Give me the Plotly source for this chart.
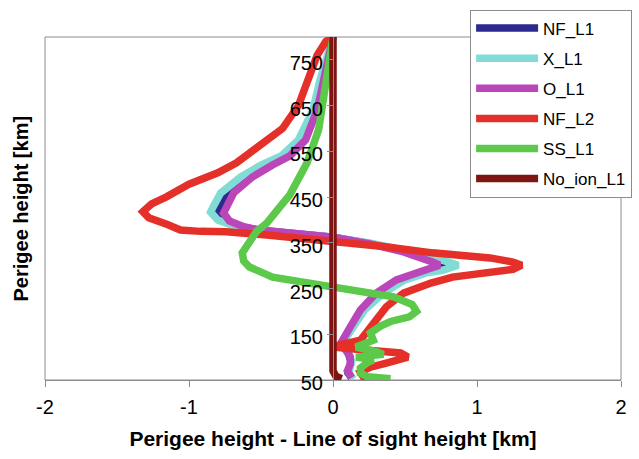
import plotly.graph_objects as go

# ---- data (x: perigee height - line of sight height [km], h: perigee height [km]) ----
nf_l1_x = [0.0, -0.035, -0.08, -0.125, -0.215, -0.33, -0.46, -0.60, -0.73, -0.79, -0.81, -0.77, -0.65, -0.53, -0.24, 0.0, 0.26, 0.52, 0.73, 0.80, 0.70, 0.62, 0.47, 0.33, 0.21, 0.14, 0.07, 0.055, 0.105, 0.125, 0.105, 0.135]
nf_l1_h = [800, 760, 706, 640, 575, 540, 520, 494, 459, 430, 416, 399, 386, 378, 371, 362, 348, 330, 310, 303, 290, 285, 269, 240, 203, 166, 137, 128, 110, 90, 65, 52]

x_l1_x = [0.0, -0.04, -0.09, -0.14, -0.24, -0.36, -0.50, -0.64, -0.78, -0.83, -0.85, -0.80, -0.68, -0.55, -0.25, 0.0, 0.28, 0.55, 0.78, 0.87, 0.76, 0.66, 0.50, 0.35, 0.22, 0.15, 0.08, 0.06, 0.11, 0.13, 0.11, 0.14]
x_l1_h = [800, 760, 706, 640, 575, 540, 520, 494, 459, 430, 417, 400, 386, 378, 371, 362, 348, 330, 310, 301, 290, 285, 269, 240, 203, 166, 137, 128, 110, 90, 65, 52]

o_l1_x = [0.0, -0.03, -0.07, -0.11, -0.19, -0.30, -0.42, -0.56, -0.69, -0.74, -0.76, -0.72, -0.62, -0.51, -0.23, 0.0, 0.25, 0.49, 0.69, 0.74, 0.60, 0.44, 0.30, 0.19, 0.12, 0.06, 0.05, 0.08, 0.12, 0.12, 0.10, 0.13]
o_l1_h = [800, 760, 706, 640, 575, 540, 520, 494, 459, 430, 415, 398, 385, 378, 371, 362, 348, 330, 308, 301, 286, 269, 240, 203, 166, 137, 128, 120, 100, 85, 70, 55]

nf_l2_x = [0.0, -0.05, -0.11, -0.16, -0.24, -0.35, -0.51, -0.67, -0.80, -1.0, -1.16, -1.26, -1.32, -1.28, -1.15, -1.06, -0.92, -0.74, -0.46, -0.2, 0.05, 0.35, 0.69, 0.95, 1.09, 1.25, 1.31, 1.25, 1.11, 0.95, 0.83, 0.68, 0.60, 0.49, 0.37, 0.28, 0.23, 0.19, 0.05, 0.0, 0.2, 0.47, 0.52, 0.45, 0.37, 0.26, 0.19, 0.21, 0.30]
nf_l2_h = [800, 790, 760, 715, 650, 600, 560, 525, 503, 478, 450, 435, 418, 405, 390, 378, 375, 374, 367, 360, 352, 342, 328, 322, 317, 308, 301, 292, 286, 280, 275, 262, 253, 240, 210, 175, 153, 137, 127, 122, 116, 109, 100, 92, 87, 78, 67, 57, 52]

ss_l1_x = [0.0, -0.02, -0.04, -0.10, -0.18, -0.23, -0.30, -0.37, -0.46, -0.53, -0.60, -0.63, -0.62, -0.58, -0.42, -0.16, 0.0, 0.24, 0.42, 0.55, 0.58, 0.53, 0.40, 0.33, 0.26, 0.28, 0.16, 0.30, 0.35, 0.16, 0.28, 0.24, 0.19, 0.19, 0.24, 0.40]
ss_l1_h = [800, 760, 706, 597, 525, 494, 455, 428, 393, 375, 345, 328, 310, 297, 275, 262, 255, 242, 232, 215, 200, 188, 178, 168, 153, 137, 122, 112, 106, 100, 94, 88, 76, 65, 57, 53]

no_ion_x = [0.0, 0.0, -0.004, 0.004, -0.004, 0.004, -0.004, 0.004, -0.004, 0.004, -0.004, 0.004, 0.0, 0.0, 0.02, 0.06]
no_ion_h = [800, 290, 280, 270, 255, 240, 220, 200, 180, 160, 145, 130, 110, 70, 58, 53]

series = [
    ("NF_L1", nf_l1_x, nf_l1_h, "#2c2a8e"),
    ("X_L1", x_l1_x, x_l1_h, "#82dcd6"),
    ("O_L1", o_l1_x, o_l1_h, "#bb46ba"),
    ("NF_L2", nf_l2_x, nf_l2_h, "#e5302a"),
    ("SS_L1", ss_l1_x, ss_l1_h, "#5cc94b"),
    ("No_ion_L1", no_ion_x, no_ion_h, "#7d1512"),
]

x_ticks = [-2, -1, 0, 1, 2]
y_ticks = [50, 150, 250, 350, 450, 550, 650, 750]

FONT = "Liberation Sans, Arial, sans-serif"

fig = go.Figure()
for i, (name, xs, hs, col) in enumerate(series):
    fig.add_trace(go.Scatter(x=xs, y=hs, mode="lines", name=name,
                             legendgroup=name,
                             line=dict(color=col, width=7.5)))

fig.update_layout(
    width=639, height=459,
    margin=dict(l=45, r=18, t=37, b=79, autoexpand=False),
    paper_bgcolor="white", plot_bgcolor="white",
    font=dict(family=FONT, color="black"),
    showlegend=True,
    legend=dict(x=0.738, y=1.08, xanchor="left", yanchor="top",
                bgcolor="white", bordercolor="#8c8c8c", borderwidth=1,
                font=dict(size=17, family=FONT), itemwidth=62,
                tracegroupgap=5),
    xaxis=dict(range=[-2, 2], tickvals=x_ticks, ticktext=[str(v) for v in x_ticks],
               showgrid=False, zeroline=False, showline=True, linecolor="#8c8c8c",
               linewidth=1, ticks="outside", ticklen=6, tickcolor="#8c8c8c",
               tickfont=dict(size=20), ticklabelstandoff=3,
               title=dict(text="<b>Perigee height - Line of sight height [km]</b>",
                          font=dict(size=21), standoff=14)),
    yaxis=dict(range=[50, 800], tickvals=y_ticks, ticktext=[str(v) for v in y_ticks],
               anchor="free", position=0.5,
               showgrid=False, zeroline=False, showline=True, linecolor="#8c8c8c",
               linewidth=1, ticks="outside", ticklen=6, tickcolor="#8c8c8c",
               tickfont=dict(size=20), ticklabelshift=3),
    shapes=[dict(type="rect", xref="paper", yref="paper", x0=0, x1=1, y0=0, y1=1,
                 line=dict(color="#8c8c8c", width=1), layer="below")],
    annotations=[dict(text="<b>Perigee height [km]</b>", xref="paper", yref="paper",
                      x=-0.0434, y=0.5, xanchor="center", yanchor="middle",
                      textangle=-90, showarrow=False, font=dict(size=20, family=FONT))],
)

fig.write_html("out.html")
